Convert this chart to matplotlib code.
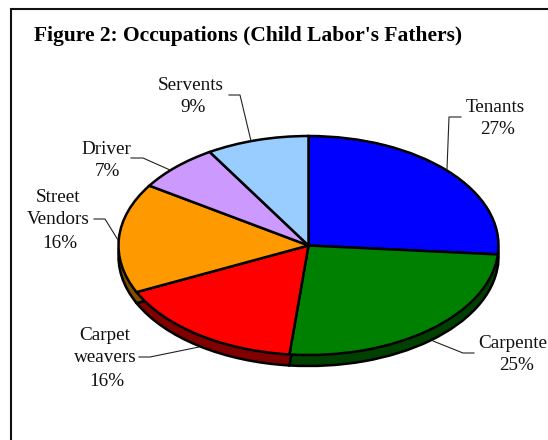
import matplotlib
matplotlib.use("Agg")
import matplotlib.pyplot as plt

occupations = ["Tenants", "Carpenters", "Carpet weavers", "Street Vendors", "Driver", "Servents"]
shares = [26.3, 25.3, 16.4, 16.2, 7.1, 8.7]
top_colors = ["#0000FF", "#008000", "#FF0000", "#FF9900", "#CC99FF", "#99CCFF"]
side_colors = ["#000080", "#004000", "#800000", "#804C00", "#664C80", "#4C6680"]
title_text = "Figure 2: Occupations (Child Labor's Fathers)"

W, H = 548, 440
plt.rcParams["font.family"] = ["Liberation Serif", "DejaVu Serif"]
fig = plt.figure(figsize=(W / 100, H / 100), dpi=100, facecolor="white")

# overlay in pixel coordinates for frame, title, labels and leaders
ov = fig.add_axes([0, 0, 1, 1], zorder=3)
ov.set_xlim(0, W)
ov.set_ylim(H, 0)
ov.axis("off")
ov.patch.set_alpha(0)

# pie axes: data range -1..1 maps onto the ellipse
cx, cy, rx, ry, depth = 308.5, 245.5, 190, 109.5, 11
pax = fig.add_axes([(cx - rx) / W, 1 - (cy + ry) / H, 2 * rx / W, 2 * ry / H], zorder=1)
LW = 1.8
for off in (0.25, 0.5, 0.75):
    pax.pie(shares, colors=side_colors, startangle=90, counterclock=False,
            center=(0, -off * depth / ry), wedgeprops=dict(linewidth=0), normalize=True)
pax.pie(shares, colors=side_colors, startangle=90, counterclock=False,
        center=(0, -depth / ry), wedgeprops=dict(edgecolor="black", linewidth=LW))
pax.pie(shares, colors=top_colors, startangle=90, counterclock=False,
        wedgeprops=dict(edgecolor="black", linewidth=LW))
pax.set_aspect("auto")
pax.set_xlim(-1, 1)
pax.set_ylim(-1, 1)
pax.axis("off")
for art in pax.patches:
    art.set_clip_on(False)

# frame (only left and top are visible in the crop)
ov.plot([11, 11, W], [H, 9, 9], color="#111111", lw=1.5, solid_joinstyle="miter", clip_on=False)

ov.text(34, 36, title_text, fontsize=15.5, fontweight="bold", ha="left", va="center", color="black")

FS = 13.8
labels = [
    (495, 107, "Tenants"), (498, 130, "27%"),
    (191, 85, "Servents"), (193, 107, "9%"),
    (106, 149, "Driver"), (107, 172, "7%"),
    (58, 198, "Street"), (58, 220, "Vendors"), (60, 243, "16%"),
    (105, 335, "Carpet"), (105, 358, "weavers"), (107, 381, "16%"),
    (513, 343, "Carpente"), (517, 365, "25%"),
]
for x, y, s in labels:
    ov.text(x, y, s, fontsize=FS, ha="center", va="center", color="#111111")

leaders = [
    ([461, 449, 447], [117, 117, 169]),
    ([229, 240, 251], [95, 95, 141]),
    ([131, 143, 170], [158, 158, 170]),
    ([94, 105, 118], [219, 219, 240]),
    ([139, 150, 199], [357, 357, 347]),
    ([474, 463, 433], [353, 353, 341]),
]
for xs, ys in leaders:
    ov.plot(xs, ys, color="#222222", lw=0.8)

fig.savefig("out.png", dpi=100, facecolor="white")
